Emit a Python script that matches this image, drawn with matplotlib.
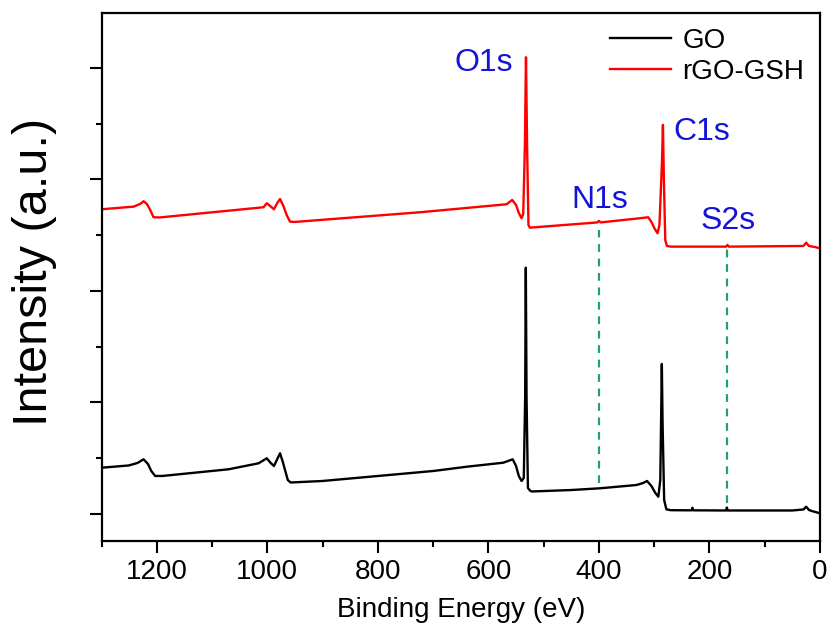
import matplotlib
matplotlib.use("Agg")
import matplotlib.pyplot as plt
from matplotlib.ticker import MultipleLocator, NullFormatter

plt.rcParams['font.family'] = ['Liberation Sans', 'DejaVu Sans']

# ---- data (binding energy in eV, intensity in offset arbitrary units) ----
go_energy = [1300, 1251, 1235, 1224, 1216, 1210, 1203, 1190, 1070, 1016, 1001, 994, 988,
             982, 977, 972, 968, 963, 958, 900, 814, 700, 639, 573, 556, 550, 545, 540,
             536, 533.5, 532.3, 531, 528.5, 524, 521, 450, 398, 332, 320, 313, 305, 298,
             292.5, 289, 287.5, 286.2, 284.8, 282, 278, 270, 232, 231, 229, 170, 168.5,
             167, 50, 30, 25, 20, 15, 0]
go_intensity = [0.830, 0.870, 0.915, 0.981, 0.897, 0.771, 0.682, 0.682, 0.802, 0.909, 0.999,
                0.915, 0.861, 0.987, 1.089, 0.933, 0.789, 0.610, 0.565, 0.592, 0.669, 0.771,
                0.848, 0.920, 0.981, 0.861, 0.682, 0.592, 0.646, 2.100, 4.418, 2.100, 0.466,
                0.413, 0.404, 0.430, 0.461, 0.520, 0.556, 0.592, 0.502, 0.377, 0.310, 0.610,
                1.700, 2.691, 1.600, 0.251, 0.084, 0.068, 0.066, 0.113, 0.066, 0.063, 0.117,
                0.063, 0.063, 0.081, 0.131, 0.072, 0.054, 0.013]

rgo_energy = [1300, 1242, 1230, 1224, 1218, 1212, 1206, 1195, 1007, 1001, 994, 988, 982,
              977, 971, 965, 959, 950, 723, 567, 557, 550, 545, 540, 537, 534, 532, 530,
              527.5, 525, 520, 403, 400, 397, 326, 311, 305, 300, 294, 290.5, 286, 284.2,
              282.5, 280, 277, 270, 170, 167.5, 165, 30, 25, 20, 10, 0]
rgo_intensity = [5.465, 5.512, 5.561, 5.609, 5.561, 5.453, 5.322, 5.318, 5.501, 5.573, 5.516,
                 5.465, 5.578, 5.650, 5.525, 5.363, 5.243, 5.238, 5.412, 5.555, 5.632, 5.543,
                 5.399, 5.304, 5.381, 6.600, 8.192, 6.600, 5.180, 5.135, 5.139, 5.229, 5.256,
                 5.229, 5.304, 5.322, 5.238, 5.130, 5.035, 5.184, 6.300, 6.978, 6.000, 4.915,
                 4.807, 4.795, 4.795, 4.825, 4.795, 4.807, 4.866, 4.807, 4.789, 4.766]

series_labels = ["GO", "rGO-GSH"]

# peak annotations: label, energy, baseline height
peak_labels = ["O1s", "N1s", "C1s", "S2s"]
peak_label_energy = [608, 398, 214, 167]
peak_label_height = [7.946, 5.489, 6.709, 5.112]

# dashed marker lines: energy, lower end, upper end
marker_energy = [400, 168]
marker_low = [0.556, 0.197]
marker_high = [5.094, 4.766]

x_ticks = [1200, 1000, 800, 600, 400, 200, 0]

# ---- figure ----
fig = plt.figure(figsize=(8.33, 6.38), dpi=100)
ax = fig.add_axes([0.1219, 0.1525, 0.8625, 0.8267])

green = '#21a366'
blue = '#1414d8'

ax.vlines(marker_energy, marker_low, marker_high, colors=green, linestyles=(0, (3.5, 3)),
          linewidth=1.6, zorder=1)
ax.plot(go_energy, go_intensity, color='black', linewidth=1.7, label=series_labels[0], zorder=2)
ax.plot(rgo_energy, rgo_intensity, color='#ff0000', linewidth=1.7, label=series_labels[1], zorder=2)

for lab, e, h in zip(peak_labels, peak_label_energy, peak_label_height):
    ax.text(e, h, lab, color=blue, fontsize=23, ha='center', va='baseline')

ax.set_xlim(1300, 0)
ax.set_ylim(-0.479, 8.98)
ax.set_xticks(x_ticks)
ax.xaxis.set_minor_locator(MultipleLocator(100))
ax.yaxis.set_major_locator(MultipleLocator(2))
ax.yaxis.set_minor_locator(MultipleLocator(1))
ax.yaxis.set_major_formatter(NullFormatter())

ax.tick_params(axis='both', which='major', direction='out', length=8.5, width=1.5,
               labelsize=20, pad=5, top=False, right=False)
ax.tick_params(axis='both', which='minor', direction='out', length=4, width=1.5,
               top=False, right=False)
for sp in ax.spines.values():
    sp.set_linewidth(1.6)

ax.set_xlabel("Binding Energy (eV)", fontsize=20)
ax.xaxis.set_label_coords(0.5, -0.106)
ax.set_ylabel("Intensity (a.u.)", fontsize=35)
ax.yaxis.set_label_coords(-0.062, 0.51)

ax.legend(loc='upper left', bbox_to_anchor=(0.7077, 0.973), frameon=False, fontsize=20,
          handlelength=2.2, handletextpad=0.4, labelspacing=0.18, borderpad=0,
          borderaxespad=0)

fig.savefig("out.png", dpi=100)
